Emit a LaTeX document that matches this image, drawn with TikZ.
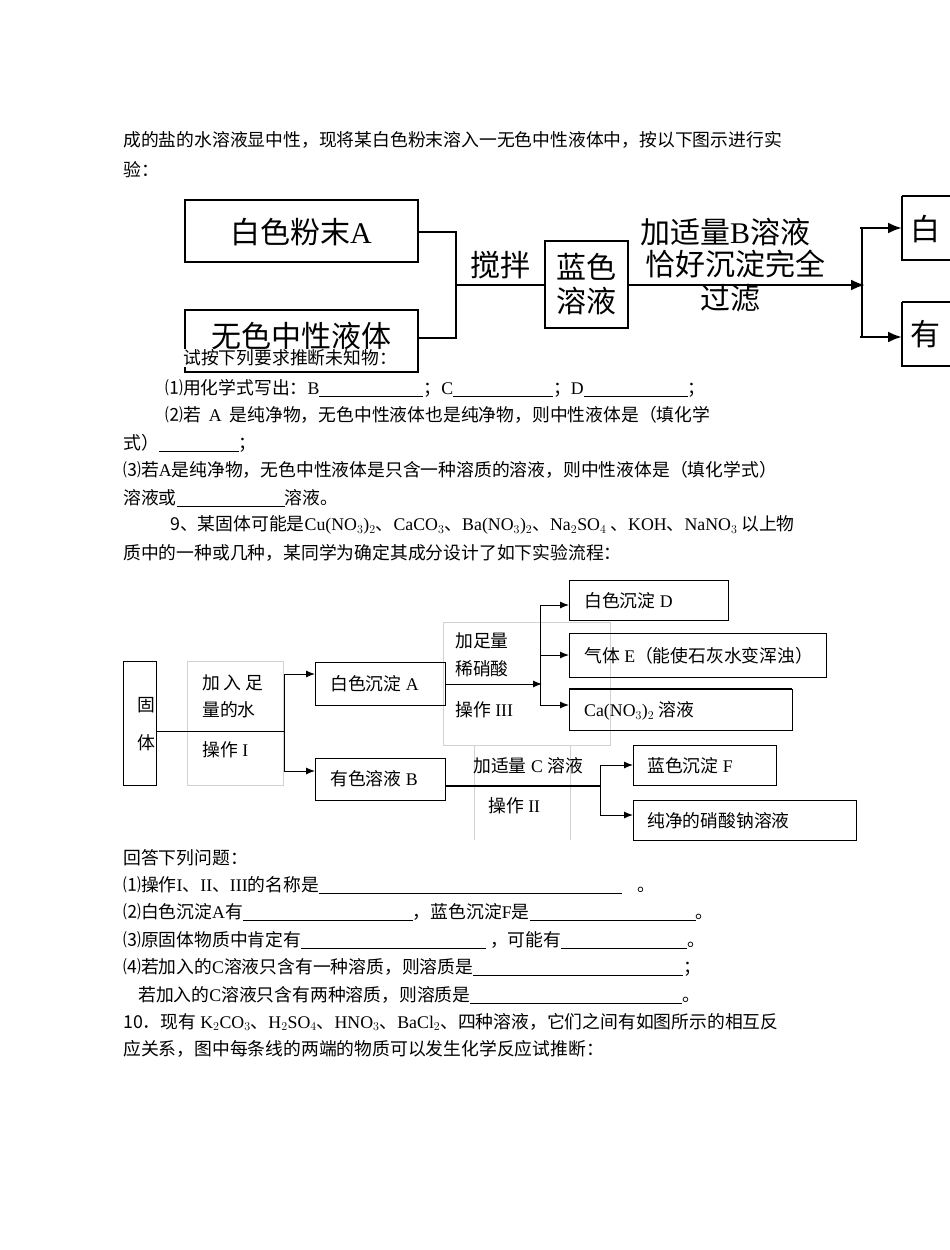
\documentclass[tikz,border=0pt]{standalone}
\usepackage{fontspec}
\setmainfont{Liberation Serif}
\newfontfamily\cjk{Noto Sans CJK SC}
\newcommand{\lat}[1]{{\rmfamily #1}}
\newcommand{\blank}[1]{\rule[-3pt]{#1}{0.8pt}}
\begin{document}
\begin{tikzpicture}[x=1pt,y=-1pt,
 txt/.style={anchor=west,inner sep=0pt,font=\cjk\fontsize{17.8}{20}\selectfont},
 big/.style={font=\cjk\fontsize{30}{34}\selectfont,inner sep=0pt},
 bbox/.style={draw,line width=2.6pt},
 sbox/.style={draw,line width=1pt,anchor=north west,inner sep=0pt},
 gbox/.style={draw=gray!35,line width=0.6pt},
 thick1/.style={line width=2.5pt},
 ln/.style={line width=1pt},
 arr/.style={line width=1pt,-{Latex[length=9pt,width=7pt]}},
 barr/.style={line width=2.5pt,-{Latex[length=14pt,width=11pt]}}]
\usetikzlibrary{arrows.meta}
\useasboundingbox (0,0) rectangle (950,1250);
% text above
\node[txt] (t1) at (123,140) {成的盐的水溶液显中性，现将某白色粉末溶入一无色中性液体中，按以下图示进行实};
\node[txt] (t2) at (123,170) {验：};
% top diagram
\draw[bbox] (185,200) rectangle (418,262);
\node[big] (pa) at (301,232) {白色粉末\lat{A}};
\draw[bbox] (185,310) rectangle (418,372);
\node[big] (pb) at (301,336) {无色中性液体};
\draw[thick1] (418,232) -- (456,232) -- (456,338) -- (418,338);
\draw[thick1] (456,285) -- (545,285);
\node[big] (stir) at (500,265) {搅拌};
\draw[bbox] (545,241) rectangle (628,328);
\node[big,align=center] (blue) at (586,284) {蓝色\\[0pt]溶液};
\draw[barr] (628,285) -- (865,285);
\node[big] (l1) at (725,232) {加适量\lat{B}溶液};
\node[big] (l2) at (735,264) {恰好沉淀完全};
\node[big] (l3) at (730,298) {过滤};
\draw[thick1] (862,228) -- (862,337);
\draw[barr] (860,228) -- (902,228);
\draw[barr] (860,337) -- (902,337);
\draw[bbox] (902,196) -- (955,196) (902,196) -- (902,260) -- (955,260);
\draw[bbox] (902,302) -- (955,302) (902,302) -- (902,366) -- (955,366);
\node[big,anchor=west] (r1) at (910,229) {白};
\node[big,anchor=west] (r2) at (910,334) {有};
% questions
\node[txt,fill=white,inner ysep=1pt] (t3) at (183,358) {试按下列要求推断未知物：};
\node[txt] (t4) at (165,388) {⑴用化学式写出：\lat{B}\blank{104pt}；\lat{C}\blank{100pt}；\lat{D}\blank{104pt}；};
\node[txt] (t5) at (165,415) {⑵若\ \ \lat{A}\ \ 是纯净物，无色中性液体也是纯净物，则中性液体是（填化学};
\node[txt] (t6) at (123,443) {式）\blank{80pt}；};
\node[txt] (t7) at (123,470) {⑶若\lat{A}是纯净物，无色中性液体是只含一种溶质的溶液，则中性液体是（填化学式）};
\node[txt] (t8) at (123,498) {溶液或\blank{108pt}溶液。};
\node[txt] (t9) at (170,525) {9、某固体可能是\lat{Cu(NO$_3$)$_2$}、\lat{CaCO$_3$}、\lat{Ba(NO$_3$)$_2$}、\lat{Na$_2$SO$_4$} 、\lat{KOH}、\lat{NaNO$_3$} 以上物};
\node[txt] (t10) at (123,553) {质中的一种或几种，某同学为确定其成分设计了如下实验流程：};
% second diagram
\draw[gbox] (187,661) rectangle (283,785);
\draw[gbox] (443,622) rectangle (610,745);
\draw[gbox] (474,745) -- (474,840) (570,745) -- (570,840);
\node[sbox,minimum width=33pt,minimum height=124pt] (solid) at (123,661) {};
\node[txt] (s1) at (137,705) {固};
\node[txt] (s2) at (137,743) {体};
\node[txt] (o1) at (202,683) {加\ 入\ 足};
\node[txt] (o2) at (202,710) {量的水};
\node[txt] (o3) at (202,750) {操作\lat{ I}};
\node[sbox,minimum width=130pt,minimum height=43pt] (A) at (315,662) {};
\node[txt] (At) at (330,684) {白色沉淀\lat{ A}};
\node[sbox,minimum width=130pt,minimum height=42pt] (B) at (315,758) {};
\node[txt] (Bt) at (330,779) {有色溶液\lat{ B}};
\draw[ln] (solid.east |- 0,731) -- (284,731);
\draw[ln] (284,674) -- (284,771);
\draw[arr] (284,674) -- (A.west |- 0,674);
\draw[arr] (284,771) -- (B.west |- 0,771);
\node[txt] (n1) at (455,641) {加足量};
\node[txt] (n2) at (455,669) {稀硝酸};
\node[txt] (n3) at (455,710) {操作\lat{ III}};
\draw[arr] (A.east |- 0,684) -- (542,684);
\draw[ln] (540,605) -- (540,705);
\node[sbox,minimum width=159pt,minimum height=40pt] (D) at (569,580) {};
\node[txt] (Dt) at (584,601) {白色沉淀\lat{ D}};
\node[sbox,minimum width=257pt,minimum height=44pt] (E) at (569,633) {};
\node[txt] (Et) at (584,656) {气体\lat{ E}（能使石灰水变浑浊）};
\node[sbox,minimum width=223pt,minimum height=41pt] (Ca) at (569,689) {};
\draw[line width=2pt] (569,689) -- (792,689);
\node[txt] (Cat) at (584,711) {\lat{Ca(NO$_3$)$_2$} 溶液};
\draw[arr] (540,605) -- (D.west |- 0,605);
\draw[arr] (540,655) -- (E.west |- 0,655);
\draw[arr] (540,705) -- (Ca.west |- 0,705);
\node[txt] (c1) at (473,766) {加适量\lat{ C }溶液};
\node[txt] (c2) at (488,806) {操作\lat{ II}};
\draw[line width=1.5pt] (B.east |- 0,786) -- (600,786);
\draw[ln] (600,765) -- (600,815);
\node[sbox,minimum width=143pt,minimum height=40pt] (F) at (633,745) {};
\node[txt] (Ft) at (647,766) {蓝色沉淀\lat{ F}};
\node[sbox,minimum width=223pt,minimum height=40pt] (G) at (633,800) {};
\node[txt] (Gt) at (647,821) {纯净的硝酸钠溶液};
\draw[arr] (600,765) -- (F.west |- 0,765);
\draw[arr] (600,815) -- (G.west |- 0,815);
% answers
\node[txt] (q0) at (123,858) {回答下列问题：};
\node[txt] (q1) at (123,885) {⑴操作\lat{I}、\lat{II}、\lat{III}的名称是\blank{303pt}\ \ \ \ 。};
\node[txt] (q2) at (123,912) {⑵白色沉淀\lat{A}有\blank{170pt}，蓝色沉淀\lat{F}是\blank{166pt}。};
\node[txt] (q3) at (123,940) {⑶原固体物质中肯定有\blank{185pt}\ ，可能有\blank{126pt}。};
\node[txt] (q4) at (123,967) {⑷若加入的\lat{C}溶液只含有一种溶质，则溶质是\blank{210pt}；};
\node[txt] (q5) at (138,995) {若加入的\lat{C}溶液只含有两种溶质，则溶质是\blank{212pt}。};
\node[txt] (q6) at (123,1022) {10．现有\ \lat{K$_2$CO$_3$}、\lat{H$_2$SO$_4$}、\lat{HNO$_3$}、\lat{BaCl$_2$}、四种溶液，它们之间有如图所示的相互反};
\node[txt] (q7) at (123,1049) {应关系，图中每条线的两端的物质可以发生化学反应试推断：};
\end{tikzpicture}
\end{document}
